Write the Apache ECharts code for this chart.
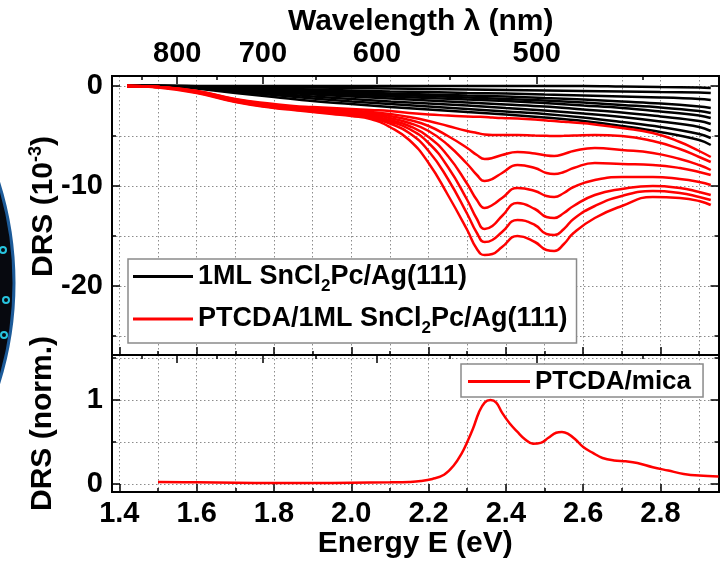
<!DOCTYPE html>
<html><head><meta charset="utf-8">
<script src="https://cdn.jsdelivr.net/npm/echarts@6/dist/echarts.min.js"></script>
<style>html,body{margin:0;padding:0;background:#fff}#c{width:722px;height:561px}</style>
</head><body><div id="c"></div>
<script>
// ---------- data ----------
const HC = 1239.84; // eV*nm
const energyMajor = [1.4, 1.6, 1.8, 2.0, 2.2, 2.4, 2.6, 2.8];
const energyMinor = [1.4, 1.5, 1.6, 1.7, 1.8, 1.9, 2.0, 2.1, 2.2, 2.3, 2.4, 2.5, 2.6, 2.7, 2.8, 2.9];
const wlMajor = [800, 700, 600, 500];
const wlMinor = [850, 750, 650, 550, 450];
const drsMajor = [-20, -10, 0];
const drsMinor = [-25, -20, -15, -10, -5, 0];
const normMajor = [0, 1];
const normMinor = [0, 0.5, 1, 1.5];

const nameBlack = '1ML SnCl2Pc/Ag(111)';
const nameRed = 'PTCDA/1ML SnCl2Pc/Ag(111)';
const nameMica = 'PTCDA/mica';

const blackE = [1.42, 1.5, 1.55, 1.6, 1.7, 1.8, 1.9, 2.0, 2.1, 2.2, 2.3, 2.4, 2.5, 2.6, 2.7, 2.8, 2.9, 2.93];
const black1 = [0, 0, 0, 0, 0, 0, 0, 0, 0, 0, 0, 0, 0, 0, -0.05, -0.1, -0.15, -0.2];
const black2 = [0, 0, 0, -0.02, -0.05, -0.1, -0.15, -0.2, -0.25, -0.3, -0.35, -0.4, -0.45, -0.5, -0.55, -0.6, -0.65, -0.7];
const black3 = [0, 0, 0, -0.05, -0.15, -0.25, -0.35, -0.45, -0.55, -0.6, -0.7, -0.75, -0.85, -0.95, -1.05, -1.15, -1.3, -1.4];
const black4 = [0, 0, 0, -0.05, -0.2, -0.35, -0.5, -0.6, -0.75, -0.85, -0.95, -1.05, -1.2, -1.35, -1.55, -1.75, -2.05, -2.2];
const black5 = [0, 0, -0.02, -0.08, -0.25, -0.45, -0.6, -0.75, -0.9, -1.0, -1.15, -1.3, -1.45, -1.65, -1.9, -2.15, -2.5, -2.7];
const black6 = [0, 0, -0.02, -0.1, -0.3, -0.5, -0.7, -0.9, -1.05, -1.2, -1.35, -1.5, -1.7, -1.95, -2.2, -2.55, -2.95, -3.2];
const black7 = [0, 0, -0.03, -0.12, -0.35, -0.6, -0.85, -1.05, -1.25, -1.45, -1.65, -1.85, -2.05, -2.35, -2.65, -3.05, -3.5, -3.8];
const black8 = [0, 0, -0.03, -0.15, -0.45, -0.75, -1.05, -1.3, -1.55, -1.75, -1.95, -2.2, -2.45, -2.75, -3.1, -3.55, -4.1, -4.5];
const black9 = [0, 0, -0.04, -0.2, -0.55, -0.9, -1.25, -1.55, -1.8, -2.05, -2.3, -2.55, -2.8, -3.15, -3.6, -4.1, -4.8, -5.2];
const black10 = [0, 0, -0.05, -0.25, -0.7, -1.1, -1.5, -1.8, -2.1, -2.35, -2.6, -2.85, -3.15, -3.5, -4.0, -4.6, -5.4, -5.9];

const redE = [1.42, 1.5, 1.6, 1.7, 1.8, 1.85, 1.9, 1.95, 2.0, 2.05, 2.1, 2.15, 2.2, 2.25, 2.3, 2.325, 2.345, 2.365, 2.39, 2.43, 2.475, 2.505, 2.525, 2.55, 2.575, 2.63, 2.7, 2.78, 2.85, 2.9, 2.93];
const red1 = [0, -0.1, -0.5, -1.3, -1.8, -2.0, -2.1, -2.2, -2.3, -2.4, -2.5, -2.7, -2.85, -2.95, -3.05, -3.08, -3.1, -3.15, -3.2, -3.25, -3.35, -3.45, -3.5, -3.58, -3.65, -3.85, -4.2, -4.7, -5.6, -6.5, -7.1];
const red2 = [0, -0.1, -0.5, -1.35, -1.9, -2.1, -2.25, -2.35, -2.45, -2.6, -2.8, -3.1, -3.5, -4.0, -4.5, -4.7, -4.85, -4.9, -4.9, -4.9, -4.95, -4.98, -5.0, -4.98, -4.95, -4.9, -5.0, -5.5, -6.3, -7.1, -7.6];
const red3 = [0, -0.1, -0.55, -1.4, -1.95, -2.15, -2.3, -2.4, -2.5, -2.7, -3.0, -3.4, -4.0, -5.0, -6.2, -6.9, -7.3, -7.2, -6.9, -6.6, -6.75, -6.95, -7.0, -6.8, -6.5, -6.2, -6.4, -6.7, -7.3, -7.9, -8.4];
const red4 = [0, -0.1, -0.55, -1.45, -2.0, -2.2, -2.35, -2.5, -2.6, -2.8, -3.2, -3.7, -4.5, -5.9, -7.8, -8.9, -9.5, -9.3, -8.7, -7.9, -8.2, -8.7, -8.8, -8.6, -8.2, -7.7, -7.8, -7.9, -8.2, -8.6, -8.9];
const red5 = [0, -0.1, -0.6, -1.5, -2.05, -2.25, -2.45, -2.6, -2.7, -2.95, -3.4, -4.0, -5.1, -7.0, -9.8, -11.4, -12.2, -11.9, -11.2, -10.2, -10.5, -11.0, -11.1, -10.7, -10.1, -9.4, -9.1, -9.1, -9.3, -9.6, -9.9];
const red6 = [0, -0.1, -0.6, -1.5, -2.1, -2.3, -2.5, -2.65, -2.8, -3.05, -3.55, -4.3, -5.7, -8.1, -11.4, -13.3, -14.3, -14.0, -13.0, -11.7, -12.3, -13.1, -13.2, -12.7, -12.0, -10.9, -10.3, -10.0, -10.2, -10.6, -10.9];
const red7 = [0, -0.1, -0.65, -1.55, -2.15, -2.35, -2.55, -2.7, -2.9, -3.15, -3.75, -4.7, -6.5, -9.3, -12.8, -14.7, -15.6, -15.4, -14.6, -13.4, -13.9, -14.8, -14.9, -14.3, -13.3, -12.0, -11.0, -10.5, -10.7, -11.1, -11.4];
const red8 = [0, -0.15, -0.7, -1.6, -2.2, -2.4, -2.6, -2.8, -3.0, -3.3, -4.1, -5.4, -7.7, -10.9, -14.4, -16.3, -16.9, -16.8, -16.1, -15.0, -15.6, -16.4, -16.5, -15.8, -14.7, -13.2, -12.0, -11.1, -11.2, -11.5, -11.9];

const micaE = [1.5, 1.6, 1.7, 1.8, 1.9, 2.0, 2.1, 2.15, 2.18, 2.21, 2.24, 2.265, 2.285, 2.3, 2.315, 2.33, 2.345, 2.36, 2.375, 2.39, 2.41, 2.43, 2.45, 2.47, 2.49, 2.51, 2.53, 2.545, 2.56, 2.58, 2.6, 2.625, 2.65, 2.68, 2.71, 2.74, 2.78, 2.82, 2.86, 2.9, 2.95];
const micaV = [0.025, 0.02, 0.015, 0.012, 0.012, 0.015, 0.02, 0.025, 0.035, 0.06, 0.11, 0.22, 0.36, 0.5, 0.66, 0.85, 0.97, 1.0, 0.97, 0.85, 0.72, 0.62, 0.53, 0.48, 0.49, 0.55, 0.61, 0.62, 0.6, 0.53, 0.44, 0.37, 0.31, 0.28, 0.27, 0.25, 0.2, 0.16, 0.12, 0.1, 0.09];

// ---------- chart ----------
const FONT = '"Liberation Sans", Arial, Helvetica, sans-serif';
const toE = wl => HC / wl;
const zip = (xs, ys) => xs.map((x, i) => [x, ys[i]]);
const X0 = 1.381, X1 = 2.95;

function ax(grid, pos, min, max, ticks, len, extra) {
  return Object.assign({
    type: 'value', gridIndex: grid, position: pos, min: min, max: max,
    nameMoveOverlap: false,
    axisLine: { show: true, onZero: false, lineStyle: { color: '#000', width: 2 } },
    axisTick: { show: true, inside: true, length: len, customValues: ticks, lineStyle: { color: '#000', width: 1.5 } },
    axisLabel: { show: false },
    splitLine: { show: false }
  }, extra || {});
}
const dotted = { show: true, lineStyle: { color: '#8c8c8c', width: 1, type: [1.5, 2.5] } };
const lab = (vals, fmt, margin) => ({
  show: true, customValues: vals, formatter: fmt, margin: margin,
  fontFamily: FONT, fontWeight: 'bold', fontSize: 29, color: '#000'
});
const nameStyle = { fontFamily: FONT, fontWeight: 'bold', fontSize: 30, color: '#000' };

const wlMajE = wlMajor.map(toE), wlMinE = wlMinor.map(toE);

const xAxis = [
  ax(0, 'bottom', X0, X1, energyMinor, 4, { splitLine: dotted }),
  ax(0, 'bottom', X0, X1, energyMajor, 8),
  ax(0, 'top', X0, X1, wlMinE, 4),
  ax(0, 'top', X0, X1, wlMajE, 8, {
    axisLabel: lab(wlMajE, v => String(Math.round(HC / v)), 8),
    name: 'Wavelength λ (nm)', nameLocation: 'middle', nameGap: 39,
    nameTextStyle: Object.assign({ padding: [0, 0, 0, 11] }, nameStyle)
  }),
  ax(1, 'bottom', X0, X1, energyMinor, 4, { splitLine: dotted }),
  ax(1, 'bottom', X0, X1, energyMajor, 8, {
    axisLabel: lab(energyMajor, v => v.toFixed(1), 7),
    name: 'Energy E (eV)', nameLocation: 'middle', nameGap: 37, nameTextStyle: nameStyle
  }),
  ax(1, 'top', X0, X1, wlMinE, 4),
  ax(1, 'top', X0, X1, wlMajE, 8)
];

const Y0 = -26.9, Y1 = 1, N0 = -0.095, N1 = 1.536;
const richName = {
  t: { fontFamily: FONT, fontWeight: 'bold', fontSize: 30, lineHeight: 34, color: '#000' },
  s: { fontFamily: FONT, fontWeight: 'bold', fontSize: 18, lineHeight: 18, verticalAlign: 'top', color: '#000' }
};
const yAxis = [
  ax(0, 'left', Y0, Y1, drsMinor, 4, { splitLine: dotted }),
  ax(0, 'left', Y0, Y1, drsMajor, 8, {
    axisLabel: lab(drsMajor, v => String(v), 9),
    name: '{t|DRS (10}{s|-3}{t|)}', nameLocation: 'middle', nameGap: 51,
    nameTextStyle: Object.assign({ rich: richName, padding: [0, 0, 0, 18] }, nameStyle)
  }),
  ax(0, 'right', Y0, Y1, drsMinor, 4),
  ax(0, 'right', Y0, Y1, drsMajor, 8),
  ax(1, 'left', N0, N1, normMinor, 4, { splitLine: dotted }),
  ax(1, 'left', N0, N1, normMajor, 8, {
    axisLabel: lab(normMajor, v => String(v), 9),
    name: 'DRS (norm.)', nameLocation: 'middle', nameGap: 54, nameTextStyle: nameStyle
  }),
  ax(1, 'right', N0, N1, normMinor, 4),
  ax(1, 'right', N0, N1, normMajor, 8)
];

const blacks = [black1, black2, black3, black4, black5, black6, black7, black8, black9, black10];
const reds = [red1, red2, red3, red4, red5, red6, red7, red8];
const series = [];
blacks.forEach(v => series.push({
  type: 'line', name: nameBlack, xAxisIndex: 0, yAxisIndex: 0, data: zip(blackE, v),
  symbol: 'none', smooth: 0.4, lineStyle: { color: '#000', width: 2.5 }, itemStyle: { color: '#000' }, z: 3
}));
reds.forEach(v => series.push({
  type: 'line', name: nameRed, xAxisIndex: 0, yAxisIndex: 0, data: zip(redE, v),
  symbol: 'none', smooth: 0.5, lineStyle: { color: '#ff0000', width: 2.5 }, itemStyle: { color: '#ff0000' }, z: 4
}));
series.push({
  type: 'line', name: nameMica, xAxisIndex: 4, yAxisIndex: 4, data: zip(micaE, micaV),
  symbol: 'none', smooth: 0.4, lineStyle: { color: '#ff0000', width: 2.5 }, itemStyle: { color: '#ff0000' }, z: 4
});

const legRich = {
  t: { fontFamily: FONT, fontWeight: 'bold', fontSize: 27, lineHeight: 36, color: '#000' },
  s: { fontFamily: FONT, fontWeight: 'bold', fontSize: 17, lineHeight: 12, verticalAlign: 'bottom', color: '#000' }
};
const legFmt = n => '{t|' + n.replace('Cl2', 'Cl}{s|2}{t|') + '}';

const option = {
  animation: false,
  backgroundColor: '#fff',
  textStyle: { fontFamily: FONT },
  grid: [
    { left: 112, top: 76, width: 606.5, height: 279 },
    { left: 112, top: 355, width: 606.5, height: 137 }
  ],
  xAxis: xAxis,
  yAxis: yAxis,
  legend: [
    {
      data: [nameBlack, nameRed], orient: 'vertical', left: 128, top: 259,
      padding: [4, 9, 6, 5], itemGap: 11, itemWidth: 60, itemHeight: 3, icon: 'rect',
      backgroundColor: '#fff', borderColor: '#8a8a8a', borderWidth: 1.5, borderRadius: 0,
      formatter: legFmt, textStyle: { rich: legRich, fontSize: 27, fontWeight: 'bold', fontFamily: FONT, color: '#000' },
      selectedMode: false, z: 10
    },
    {
      data: [nameMica], orient: 'vertical', left: 461, top: 364,
      padding: [2, 12, 0, 7], itemWidth: 62, itemHeight: 3, icon: 'rect',
      backgroundColor: '#fff', borderColor: '#8a8a8a', borderWidth: 1.5,
      textStyle: { fontSize: 26, fontWeight: 'bold', fontFamily: FONT, color: '#000', lineHeight: 31 },
      selectedMode: false, z: 10
    }
  ],
  graphic: [
    { type: 'circle', shape: { cx: -322, cy: 283, r: 336 }, style: { fill: '#07090f', stroke: '#1d5b99', lineWidth: 3 }, z: 0 },
    { type: 'circle', shape: { cx: 3, cy: 250, r: 3 }, style: { fill: 'none', stroke: '#27c4df', lineWidth: 2 } },
    { type: 'circle', shape: { cx: 6, cy: 300, r: 3 }, style: { fill: 'none', stroke: '#27c4df', lineWidth: 2 } },
    { type: 'circle', shape: { cx: 4, cy: 335, r: 3 }, style: { fill: 'none', stroke: '#27c4df', lineWidth: 2 } }
  ],
  series: series
};
echarts.init(document.getElementById('c'), null, { renderer: 'canvas' }).setOption(option);
</script></body></html>
